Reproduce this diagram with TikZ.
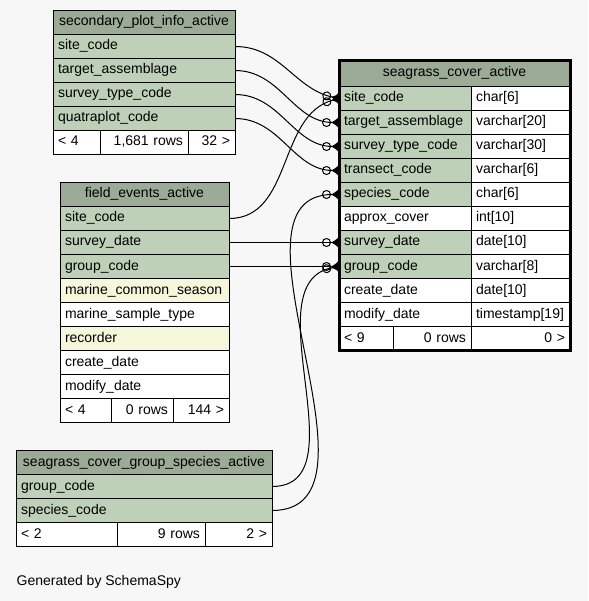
\documentclass[tikz,border=0pt]{standalone}
\usepackage{fontspec}
\setmainfont{Liberation Sans}
\usetikzlibrary{arrows.meta,positioning}
\definecolor{bggray}{HTML}{F7F7F7}
\definecolor{hdrgreen}{HTML}{9BAB96}
\definecolor{keygreen}{HTML}{BED1B8}
\definecolor{idxyellow}{HTML}{F4F7DA}

\begin{document}
\begin{tikzpicture}[
  x=1pt, y=-1pt,
  font=\fontsize{14}{16}\selectfont,
  cell/.style={rectangle, draw, fill=white, minimum height=24pt, inner xsep=5pt, inner ysep=0pt, outer sep=0pt, text height=10pt, text depth=3pt, align=left},
  head/.style={cell, fill=hdrgreen, inner xsep=2pt, align=center},
  keycell/.style={cell, fill=keygreen},
  idxcell/.style={cell, fill=idxyellow},
  footr/.style={cell, align=right},
  fk/.style={-{Circle[open,length=9pt,width=9pt,line width=1pt] Latex[reversed,length=8pt,width=11pt]}, line width=1pt}
]
  \useasboundingbox[fill=bggray] (0,0) rectangle (588,601);

  % secondary_plot_info_active
  \node[head, minimum width=182pt, anchor=north west] (spi) at (53,10.5) {secondary\_plot\_info\_active};
  \node[keycell, text width=172pt, below=0pt of spi] (spi-site) {site\_code};
  \node[keycell, text width=172pt, below=0pt of spi-site] (spi-target) {target\_assemblage};
  \node[keycell, text width=172pt, below=0pt of spi-target] (spi-survey) {survey\_type\_code};
  \node[keycell, text width=172pt, below=0pt of spi-survey] (spi-quatra) {quatraplot\_code};
  \node[cell, text width=37pt, anchor=north west] (spi-f1) at (spi-quatra.south west) {< 4};
  \node[footr, text width=78pt, right=0pt of spi-f1] (spi-f2) {1,681 rows};
  \node[footr, text width=37pt, right=0pt of spi-f2] (spi-f3) {32 >};

  % seagrass_cover_active
  \node[head, minimum width=231pt, minimum height=26pt, anchor=north west] (sca) at (339,60.5) {seagrass\_cover\_active};
  \node[keycell, text width=122pt, anchor=north west] (sca-site) at (sca.south west) {site\_code};
  \node[keycell, text width=122pt, below=0pt of sca-site] (sca-target) {target\_assemblage};
  \node[keycell, text width=122pt, below=0pt of sca-target] (sca-survey) {survey\_type\_code};
  \node[keycell, text width=122pt, below=0pt of sca-survey] (sca-transect) {transect\_code};
  \node[keycell, text width=122pt, below=0pt of sca-transect] (sca-species) {species\_code};
  \node[cell, text width=122pt, below=0pt of sca-species] (sca-cover) {approx\_cover};
  \node[keycell, text width=122pt, below=0pt of sca-cover] (sca-date) {survey\_date};
  \node[keycell, text width=122pt, below=0pt of sca-date] (sca-group) {group\_code};
  \node[cell, text width=122pt, below=0pt of sca-group] (sca-create) {create\_date};
  \node[cell, text width=122pt, below=0pt of sca-create] (sca-modify) {modify\_date};
  \node[cell, text width=89pt, right=0pt of sca-site] (sca-t1) {char[6]};
  \node[cell, text width=89pt, right=0pt of sca-target] (sca-t2) {varchar[20]};
  \node[cell, text width=89pt, right=0pt of sca-survey] (sca-t3) {varchar[30]};
  \node[cell, text width=89pt, right=0pt of sca-transect] (sca-t4) {varchar[6]};
  \node[cell, text width=89pt, right=0pt of sca-species] (sca-t5) {char[6]};
  \node[cell, text width=89pt, right=0pt of sca-cover] (sca-t6) {int[10]};
  \node[cell, text width=89pt, right=0pt of sca-date] (sca-t7) {date[10]};
  \node[cell, text width=89pt, right=0pt of sca-group] (sca-t8) {varchar[8]};
  \node[cell, text width=89pt, right=0pt of sca-create] (sca-t9) {date[10]};
  \node[cell, text width=89pt, right=0pt of sca-modify] (sca-t10) {timestamp[19]};
  \node[cell, text width=44pt, anchor=north west] (sca-f1) at (sca-modify.south west) {< 9};
  \node[footr, text width=68pt, right=0pt of sca-f1] (sca-f2) {0 rows};
  \node[footr, text width=89pt, right=0pt of sca-f2] (sca-f3) {0 >};
  \draw[line width=3pt] (sca.north west) rectangle (sca-f3.south east);

  % field_events_active
  \node[head, minimum width=169pt, anchor=north west] (fe) at (60,182.5) {field\_events\_active};
  \node[keycell, text width=159pt, below=0pt of fe] (fe-site) {site\_code};
  \node[keycell, text width=159pt, below=0pt of fe-site] (fe-date) {survey\_date};
  \node[keycell, text width=159pt, below=0pt of fe-date] (fe-group) {group\_code};
  \node[idxcell, text width=159pt, below=0pt of fe-group] (fe-season) {marine\_common\_season};
  \node[cell, text width=159pt, below=0pt of fe-season] (fe-type) {marine\_sample\_type};
  \node[idxcell, text width=159pt, below=0pt of fe-type] (fe-recorder) {recorder};
  \node[cell, text width=159pt, below=0pt of fe-recorder] (fe-create) {create\_date};
  \node[cell, text width=159pt, below=0pt of fe-create] (fe-modify) {modify\_date};
  \node[cell, text width=41pt, anchor=north west] (fe-f1) at (fe-modify.south west) {< 4};
  \node[footr, text width=52pt, right=0pt of fe-f1] (fe-f2) {0 rows};
  \node[footr, text width=46pt, right=0pt of fe-f2] (fe-f3) {144 >};

  % seagrass_cover_group_species_active
  \node[head, minimum width=256pt, anchor=north west] (scgs) at (16,450.5) {seagrass\_cover\_group\_species\_active};
  \node[keycell, text width=246pt, below=0pt of scgs] (scgs-group) {group\_code};
  \node[keycell, text width=246pt, below=0pt of scgs-group] (scgs-species) {species\_code};
  \node[cell, text width=91pt, anchor=north west] (scgs-f1) at (scgs-species.south west) {< 2};
  \node[footr, text width=78pt, right=0pt of scgs-f1] (scgs-f2) {9 rows};
  \node[footr, text width=57pt, right=0pt of scgs-f2] (scgs-f3) {2 >};

  \node[anchor=base west, inner sep=0pt] (gen) at (16.5,585) {Generated by SchemaSpy};

  % foreign keys
  \draw[fk] (spi-site.east) to[out=0, in=168] (sca-site.west);
  \draw[fk] (spi-target.east) to[out=0, in=180] (sca-target.west);
  \draw[fk] (spi-survey.east) to[out=0, in=180] (sca-survey.west);
  \draw[fk] (spi-quatra.east) to[out=0, in=180] (sca-transect.west);
  \draw[fk] (fe-site.east) to[out=0, in=195] (sca-site.west);
  \draw[fk] (fe-date.east) -- (sca-date.west);
  \draw[fk] (fe-group.east) -- (sca-group.west);
  \draw[fk] (scgs-group.east) to[out=0, in=190] (sca-group.west);
  \draw[fk] (scgs-species.east) to[out=0, in=180] (sca-species.west);
\end{tikzpicture}
\end{document}
